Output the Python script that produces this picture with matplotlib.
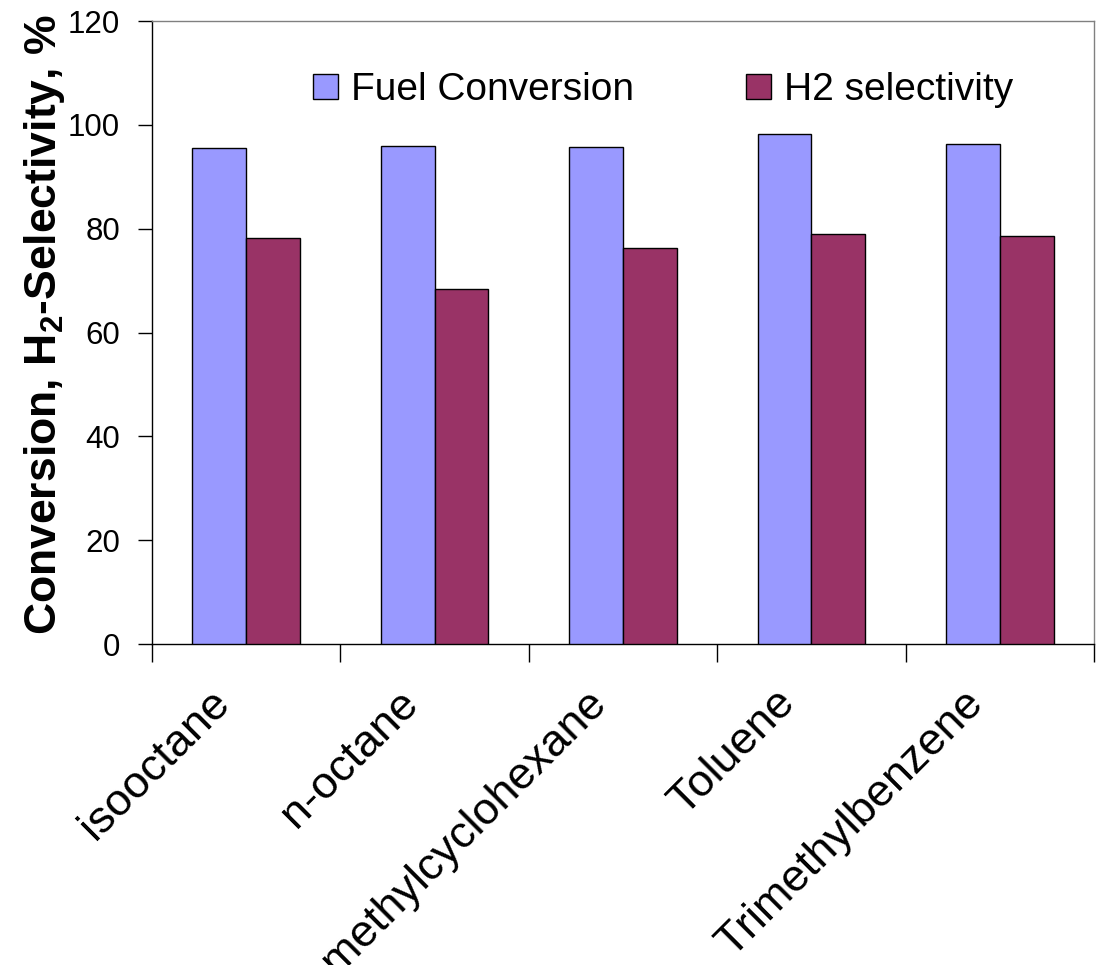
import numpy as np
import matplotlib
matplotlib.use('Agg')
import matplotlib.pyplot as plt
import matplotlib.transforms as mtransforms
from matplotlib.ticker import FixedLocator, NullFormatter

plt.rcParams['font.family'] = ['Liberation Sans', 'DejaVu Sans']
plt.rcParams['mathtext.fontset'] = 'custom'
plt.rcParams['mathtext.rm'] = 'Liberation Sans:bold'
plt.rcParams['mathtext.bf'] = 'Liberation Sans:bold'
plt.rcParams['mathtext.default'] = 'rm'

# valores
combustibles = ['isooctane', 'n-octane', 'methylcyclohexane', 'Toluene', 'Trimethylbenzene']
conversion = [95.6, 96.0, 95.8, 98.3, 96.3]
selectividad_h2 = [78.3, 68.3, 76.2, 79.0, 78.5]
etiquetas_y = [0, 20, 40, 60, 80, 100, 120]

AZUL = '#9999FF'
VINO = '#993366'

fig = plt.figure(figsize=(10.98, 9.65), dpi=100)
ax = fig.add_axes([0.1384, 0.3326, 0.8580, 0.6456])

x = np.arange(len(combustibles))
w = 1 / 3.5
ax.bar(x - w / 2, conversion, w, color=AZUL, edgecolor='black', linewidth=1.0,
       label='Fuel Conversion', zorder=3)
ax.bar(x + w / 2, selectividad_h2, w, color=VINO, edgecolor='black', linewidth=1.0,
       label='H2 selectivity', zorder=3)

ax.set_xlim(-0.5, len(combustibles) - 0.5)
ax.set_ylim(0, 120)
ax.set_yticks(etiquetas_y)
ax.tick_params(axis='y', labelsize=22.5, length=10, width=1, pad=13, direction='out')

# etiquetas en el centro, marcas en los bordes de categoria
ax.set_xticks(x)
ax.set_xticklabels(combustibles, rotation=45, ha='right', va='center',
                   rotation_mode='anchor', fontsize=32.5)
ax.tick_params(axis='x', which='major', length=0, pad=38)
desplazamiento = mtransforms.ScaledTranslation(-0.23, 0, fig.dpi_scale_trans)
for lbl in ax.get_xticklabels():
    lbl.set_transform(lbl.get_transform() + desplazamiento)
ax.xaxis.set_minor_locator(FixedLocator(np.arange(-0.5, len(combustibles), 1.0)))
ax.xaxis.set_minor_formatter(NullFormatter())
ax.tick_params(axis='x', which='minor', length=13, width=1, direction='out')

ax.set_ylabel(r'Conversion, H$_{2}$-Selectivity, %', fontsize=32, fontweight='bold')
ax.yaxis.set_label_coords(-0.09, 0.512)

for s in ['left', 'bottom']:
    ax.spines[s].set_color('black')
    ax.spines[s].set_linewidth(1.0)
for s in ['top', 'right']:
    ax.spines[s].set_color('#808080')
    ax.spines[s].set_linewidth(1.0)

ax.legend(loc='center', bbox_to_anchor=(0.5425, 0.889), ncol=2, frameon=False,
          fontsize=28, handlelength=0.64, handleheight=0.62, handletextpad=0.33,
          columnspacing=2.9)

fig.savefig('out.png', dpi=100)
